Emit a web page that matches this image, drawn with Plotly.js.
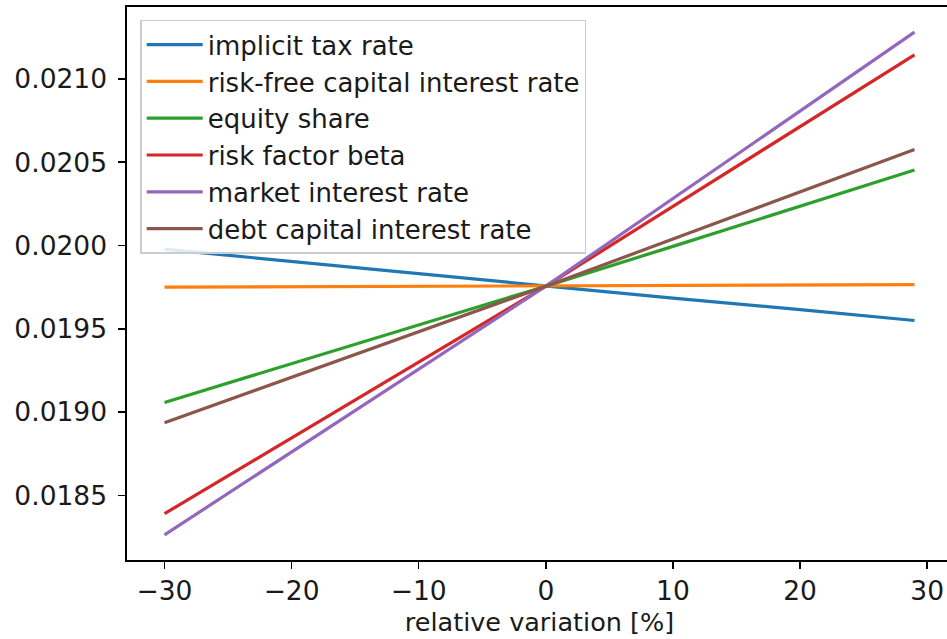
<!DOCTYPE html>
<html>
<head>
<meta charset="utf-8">
<script src="https://cdn.plot.ly/plotly-3.0.1.min.js"></script>
<style>
  html, body { margin: 0; padding: 0; overflow: hidden; background: #ffffff; }
  #chart { width: 953px; height: 639px; }
</style>
</head>
<body>
<div id="chart"></div>
<script>
// Relative variation of each input parameter, in percent
const variation = [-30, -20, -10, 0, 10, 20, 29];

// Resulting rate for each varied parameter
const implicitTaxRate      = [0.019978, 0.019905, 0.019833, 0.019756, 0.019684, 0.019615, 0.019550];
const riskFreeRate         = [0.019750, 0.019752, 0.019754, 0.019756, 0.019759, 0.019762, 0.019765];
const equityShare          = [0.019058, 0.019290, 0.019523, 0.019756, 0.019995, 0.020235, 0.020453];
const riskFactorBeta       = [0.018390, 0.018845, 0.019301, 0.019756, 0.020235, 0.020714, 0.021145];
const marketInterestRate   = [0.018263, 0.018761, 0.019258, 0.019756, 0.020282, 0.020808, 0.021281];
const debtCapitalRate      = [0.018936, 0.019209, 0.019483, 0.019756, 0.020039, 0.020322, 0.020576];

const seriesNames = [
  'implicit tax rate',
  'risk-free capital interest rate',
  'equity share',
  'risk factor beta',
  'market interest rate',
  'debt capital interest rate'
];
const seriesValues = [implicitTaxRate, riskFreeRate, equityShare, riskFactorBeta, marketInterestRate, debtCapitalRate];
const seriesColors = ['#1f77b4', '#ff7f0e', '#2ca02c', '#d62728', '#9467bd', '#8c564b'];

// Axis ticks
const xTicks = [-30, -20, -10, 0, 10, 20, 30];
const yTicks = [0.0185, 0.0190, 0.0195, 0.0200, 0.0205, 0.0210];

const traces = seriesNames.map((name, i) => ({
  type: 'scatter',
  mode: 'lines',
  name: name,
  x: variation,
  y: seriesValues[i],
  line: { color: seriesColors[i], width: 3.2 }
}));

const tickFont = { family: 'DejaVu Sans, sans-serif', size: 26.5, color: '#1a1a1a' };
const titleFont = { family: 'DejaVu Sans, sans-serif', size: 25.5, color: '#1a1a1a' };

const layout = {
  width: 953,
  height: 639,
  margin: { l: 127, r: 1, t: 7, b: 79 },
  paper_bgcolor: '#ffffff',
  plot_bgcolor: '#ffffff',
  font: tickFont,
  showlegend: true,
  legend: {
    x: 0.016, y: 0.977, xanchor: 'left', yanchor: 'top',
    bgcolor: 'rgba(255,255,255,0.85)',
    bordercolor: '#cccccc', borderwidth: 1.5,
    font: { family: 'DejaVu Sans, sans-serif', size: 26, color: '#1a1a1a' },
    itemwidth: 56,
    tracegroupgap: 0
  },
  xaxis: {
    range: [-32.95, 31.95],
    tickvals: xTicks,
    tickfont: tickFont,
    ticks: 'outside', ticklen: 7, tickwidth: 1.5, tickcolor: '#000000',
    showline: true, linecolor: '#000000', linewidth: 1.6, mirror: true,
    showgrid: false, zeroline: false,
    title: { text: 'relative variation [%]', font: titleFont, standoff: 8 }
  },
  yaxis: {
    range: [0.018112, 0.021432],
    tickvals: yTicks,
    tickformat: '.4f',
    tickfont: tickFont,
    ticks: 'outside', ticklen: 7, tickwidth: 1.5, tickcolor: '#000000',
    ticklabelstandoff: 6,
    showline: true, linecolor: '#000000', linewidth: 1.6, mirror: true,
    showgrid: false, zeroline: false
  }
};

Plotly.newPlot('chart', traces, layout, { displayModeBar: false, staticPlot: true });
</script>
</body>
</html>
